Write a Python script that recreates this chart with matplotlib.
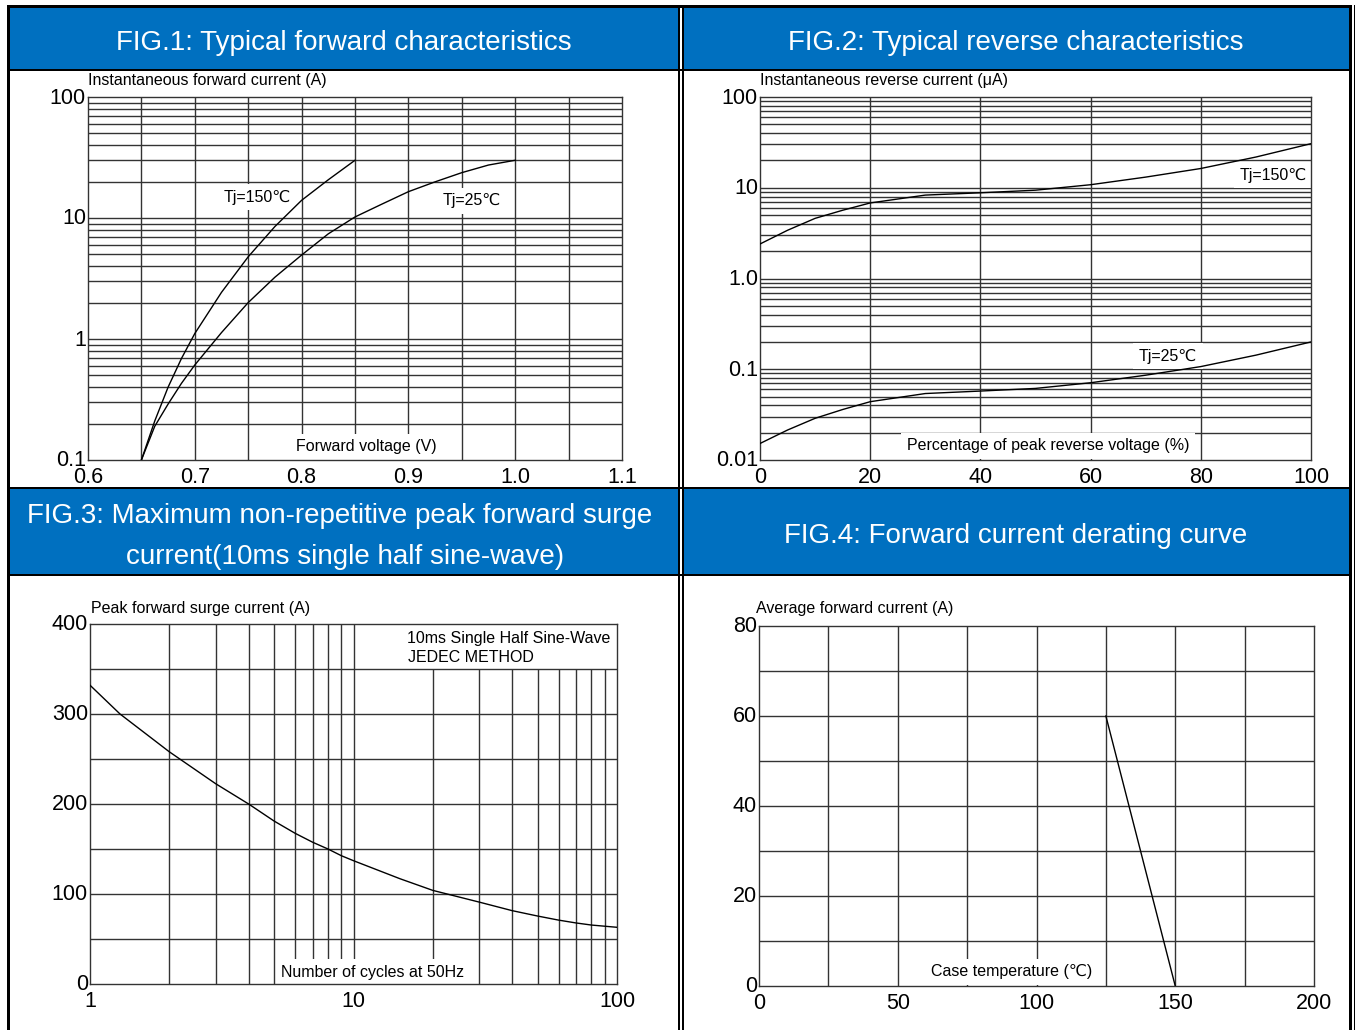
import numpy as np
import matplotlib
matplotlib.use("Agg")
import matplotlib.pyplot as plt
from matplotlib.patches import Rectangle
from matplotlib.ticker import NullLocator, NullFormatter
from matplotlib.transforms import ScaledTranslation

plt.rcParams['font.family'] = ['Liberation Sans', 'DejaVu Sans']

# FIG.1 forward characteristics (V, A)
fig1_v150 = [0.65, 0.6625, 0.675, 0.6875, 0.70, 0.725, 0.75, 0.775, 0.80, 0.825, 0.85]
fig1_i150 = [0.1, 0.21, 0.40, 0.69, 1.11, 2.43, 4.78, 8.5, 14.0, 20.7, 30]
fig1_v25 = [0.65, 0.6625, 0.675, 0.6875, 0.70, 0.725, 0.75, 0.775, 0.80, 0.825, 0.85,
            0.875, 0.90, 0.925, 0.95, 0.975, 1.0]
fig1_i25 = [0.1, 0.19, 0.29, 0.43, 0.61, 1.13, 2.0, 3.24, 4.94, 7.4, 10.2,
            13.0, 16.5, 19.9, 23.7, 27.4, 30]

# FIG.2 reverse characteristics (% of VRRM, uA)
fig2_pct = [0, 5, 10, 15, 20, 30, 40, 50, 60, 70, 80, 90, 100]
fig2_ir150 = [2.4, 3.4, 4.6, 5.65, 6.8, 8.3, 8.8, 9.4, 10.8, 13.1, 16.3, 21.8, 30.6]
fig2_ir25 = [0.0152, 0.0214, 0.0288, 0.036, 0.0439, 0.054, 0.0575, 0.0615, 0.071, 0.086, 0.107, 0.143, 0.2]

# FIG.3 surge current vs cycles
fig3_cycles = [1, 1.3, 2, 3, 4, 5, 6, 7, 8, 9, 10, 15, 20, 30, 40, 50, 60, 70, 80, 100]
fig3_surge = [332, 300, 258, 222.5, 200, 181, 167.5, 157.5, 150, 142.5, 137, 117, 104,
              91, 81.5, 75.5, 71, 67.8, 65.5, 63]

# FIG.4 derating
fig4_temp = [125, 150]
fig4_current = [60, 0]

W, H = 1355, 1030
fig = plt.figure(figsize=(W / 100, H / 100), dpi=100)
BLUE = '#0070c0'
GC = '#333333'
GLW = 1.0
TICK_FS = 15.5
LAB_FS = 11.5


def box(l, t, r, b):
    return [l / W, 1 - b / H, (r - l) / W, (b - t) / H]


def rect(l, t, r, b, color, z=0):
    fig.add_artist(Rectangle((l / W, 1 - b / H), (r - l) / W, (b - t) / H,
                             transform=fig.transFigure, facecolor=color,
                             edgecolor='none', zorder=z))


# title bars and frame
for l, t, r, b in [(10, 8, 678, 69), (683.5, 8, 1349, 69),
                   (10, 489, 678, 574), (683.5, 489, 1349, 574)]:
    rect(l, t, r, b, BLUE)
for l, t, r, b in [(7, 5, 1352, 8), (7, 5, 10, 1030), (678, 5, 680, 1030),
                   (681.5, 5, 683.5, 1030), (1349, 5, 1352, 1030),
                   (1353.5, 5, 1355, 1030), (7, 69, 1352, 71),
                   (7, 487, 1352, 489), (7, 574, 1352, 576)]:
    rect(l, t, r, b, 'black', z=1)


def title(x, y, s):
    fig.text(x / W, 1 - y / H, s, color='white', fontsize=20, ha='center', va='center')


title(344, 43, 'FIG.1: Typical forward characteristics')
title(1016, 43, 'FIG.2: Typical reverse characteristics')
title(340, 516, 'FIG.3: Maximum non-repetitive peak forward surge')
title(345, 557, 'current(10ms single half sine-wave)')
title(1016, 536, 'FIG.4: Forward current derating curve')


def ylab(x, y, s):
    fig.text(x / W, 1 - y / H, s, fontsize=LAB_FS, ha='left', va='center')


def style(ax, xpad=5, ypad=1.5):
    for sp in ax.spines.values():
        sp.set_color(GC)
        sp.set_linewidth(GLW)
        sp.set_zorder(2.5)
    ax.tick_params(length=0, labelsize=TICK_FS)
    ax.tick_params(axis='x', pad=xpad)
    ax.tick_params(axis='y', pad=ypad)
    ax.xaxis.set_minor_locator(NullLocator())
    ax.yaxis.set_minor_locator(NullLocator())
    ax.xaxis.set_minor_formatter(NullFormatter())
    ax.yaxis.set_minor_formatter(NullFormatter())


def lift_ylabels(ax):
    shift = ScaledTranslation(0, 1.5 / 100, fig.dpi_scale_trans)
    for lab in ax.get_yticklabels():
        lab.set_transform(lab.get_transform() + shift)


def inner(ax, x, y, s, ha='center'):
    ax.text(x, y, s, transform=ax.transAxes, fontsize=LAB_FS, ha=ha, va='center',
            zorder=2, bbox=dict(facecolor='white', edgecolor='none', pad=4))


def log_hlines(ax, lo, hi):
    d = lo
    while d < hi:
        for k in range(1, 10):
            y = k * d
            if lo < y < hi:
                ax.axhline(y, color=GC, lw=GLW, zorder=1)
        d *= 10


# FIG.1
ax1 = fig.add_axes(box(88, 97, 622, 460))
ax1.set_yscale('log')
ax1.set_xlim(0.6, 1.1)
ax1.set_ylim(0.1, 100)
log_hlines(ax1, 0.1, 100)
for x in np.arange(0.65, 1.09, 0.05):
    ax1.axvline(x, color=GC, lw=GLW, zorder=1)
ax1.plot(fig1_v150, fig1_i150, color='black', lw=1.0, zorder=3)
ax1.plot(fig1_v25, fig1_i25, color='black', lw=1.0, zorder=3)
style(ax1)
ax1.set_xticks([0.6, 0.7, 0.8, 0.9, 1.0, 1.1])
ax1.set_xticklabels(['0.6', '0.7', '0.8', '0.9', '1.0', '1.1'])
ax1.set_yticks([0.1, 1, 10, 100])
ax1.set_yticklabels(['0.1', '1', '10', '100'])
lift_ylabels(ax1)
inner(ax1, 0.3165, 0.7245, 'Tj=150℃')
inner(ax1, 0.719, 0.7135, 'Tj=25℃')
inner(ax1, 0.5206, 0.036, 'Forward voltage (V)')
ylab(88, 80, 'Instantaneous forward current (A)')

# FIG.2
ax2 = fig.add_axes(box(760, 97, 1311, 460))
ax2.set_yscale('log')
ax2.set_xlim(0, 100)
ax2.set_ylim(0.01, 100)
log_hlines(ax2, 0.01, 100)
for x in [20, 40, 60, 80]:
    ax2.axvline(x, color=GC, lw=GLW, zorder=1)
ax2.plot(fig2_pct, fig2_ir150, color='black', lw=1.0, zorder=3)
ax2.plot(fig2_pct, fig2_ir25, color='black', lw=1.0, zorder=3)
style(ax2)
ax2.set_xticks([0, 20, 40, 60, 80, 100])
ax2.set_xticklabels(['0', '20', '40', '60', '80', '100'])
ax2.set_yticks([0.01, 0.1, 1, 10, 100])
ax2.set_yticklabels(['0.01', '0.1', '1.0', '10', '100'])
lift_ylabels(ax2)
inner(ax2, 0.931, 0.785, 'Tj=150℃')
inner(ax2, 0.7405, 0.2865, 'Tj=25℃')
inner(ax2, 0.5227, 0.0386, 'Percentage of peak reverse voltage (%)')
ylab(760, 80, 'Instantaneous reverse current (μA)')

# FIG.3
ax3 = fig.add_axes(box(90, 624, 617, 984))
ax3.set_xscale('log')
ax3.set_xlim(1, 100)
ax3.set_ylim(0, 400)
for y in range(50, 400, 50):
    ax3.axhline(y, color=GC, lw=GLW, zorder=1)
for d in [1, 10]:
    for k in range(2, 10):
        x = k * d
        top = 400 if x <= 10 else 350
        ax3.vlines(x, 0, top, color=GC, lw=GLW, zorder=1)
ax3.vlines(10, 0, 400, color=GC, lw=GLW, zorder=1)
ax3.plot(fig3_cycles, fig3_surge, color='black', lw=1.0, zorder=3)
style(ax3)
ax3.set_xticks([1, 10, 100])
ax3.set_xticklabels(['1', '10', '100'])
ax3.set_yticks([0, 100, 200, 300, 400])
ax3.set_yticklabels(['0', '100', '200', '300', '400'])
lift_ylabels(ax3)
inner(ax3, 0.537, 0.0333, 'Number of cycles at 50Hz')
ax3.text(0.6015, 0.961, '10ms Single Half Sine-Wave', transform=ax3.transAxes,
         fontsize=LAB_FS, ha='left', va='center')
ax3.text(0.6034, 0.9056, 'JEDEC METHOD', transform=ax3.transAxes,
         fontsize=LAB_FS, ha='left', va='center')
ylab(91, 608, 'Peak forward surge current (A)')

# FIG.4
ax4 = fig.add_axes(box(759, 626, 1314, 986))
ax4.set_xlim(0, 200)
ax4.set_ylim(0, 80)
for y in range(10, 80, 10):
    ax4.axhline(y, color=GC, lw=GLW, zorder=1)
for x in range(25, 200, 25):
    ax4.axvline(x, color=GC, lw=GLW, zorder=1)
ax4.plot(fig4_temp, fig4_current, color='black', lw=1.0, zorder=3)
style(ax4)
ax4.set_xticks([0, 50, 100, 150, 200])
ax4.set_yticks([0, 20, 40, 60, 80])
lift_ylabels(ax4)
inner(ax4, 0.456, 0.0389, 'Case temperature (℃)')
ylab(756, 608, 'Average forward current (A)')

fig.savefig('out.png', dpi=100)
